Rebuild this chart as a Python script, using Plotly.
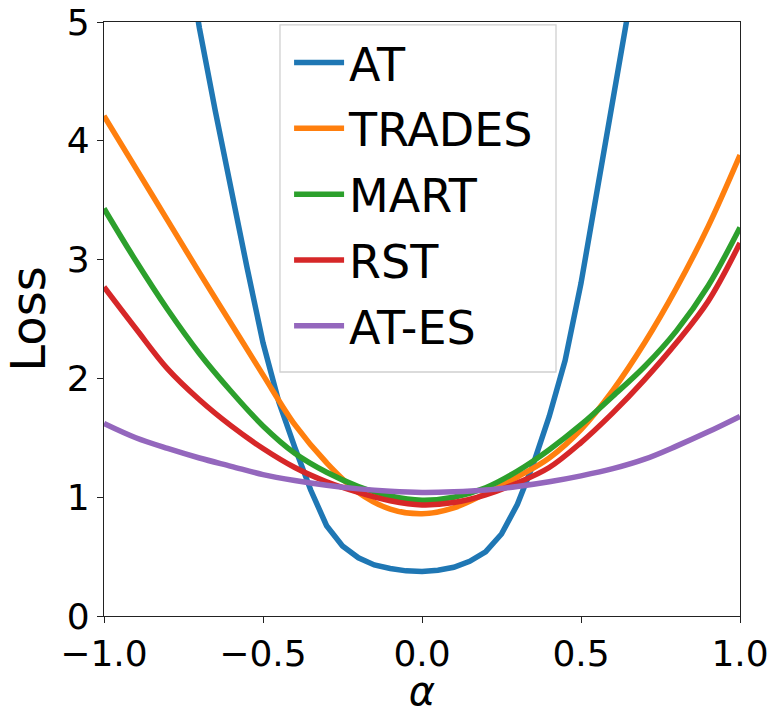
import plotly.graph_objects as go

# alpha grids
alpha_at = [round(-1.0 + 0.05 * i, 2) for i in range(41)]
alpha = [round(-1.0 + 0.1 * i, 1) for i in range(21)]

# AT (0.05 step)
loss_at = [9.9, 9.0, 8.2, 7.4, 6.6, 5.75, 4.95, 4.25, 3.58, 2.93,
           2.30, 1.80, 1.42, 1.06, 0.76, 0.59, 0.49, 0.43, 0.40, 0.38,
           0.375, 0.385, 0.41, 0.46, 0.54, 0.69, 0.94, 1.28, 1.68, 2.15,
           2.80, 3.50, 4.20, 4.95, 5.70, 6.50, 7.30, 8.10, 8.90, 9.70, 10.5]

loss_trades = [4.21, 3.77, 3.33, 2.89, 2.46, 2.03, 1.61, 1.29, 1.04, 0.90,
               0.86, 0.91, 1.03, 1.17, 1.33, 1.57, 1.90, 2.30, 2.76, 3.28, 3.88]
loss_mart = [3.43, 2.99, 2.58, 2.21, 1.89, 1.60, 1.37, 1.21, 1.09, 1.01,
             0.975, 1.00, 1.08, 1.22, 1.40, 1.61, 1.85, 2.10, 2.40, 2.78, 3.27]
loss_rst = [2.77, 2.42, 2.08, 1.82, 1.60, 1.41, 1.25, 1.13, 1.04, 0.97,
            0.935, 0.955, 1.02, 1.12, 1.25, 1.46, 1.71, 1.99, 2.30, 2.65, 3.14]
loss_ates = [1.62, 1.50, 1.41, 1.33, 1.26, 1.19, 1.14, 1.10, 1.07, 1.05,
             1.04, 1.045, 1.06, 1.09, 1.13, 1.18, 1.24, 1.32, 1.43, 1.55, 1.68]

names = ["AT", "TRADES", "MART", "RST", "AT-ES"]
colors = ["#1f77b4", "#ff7f0e", "#2ca02c", "#d62728", "#9467bd"]

x_ticks = [-1.0, -0.5, 0.0, 0.5, 1.0]
y_ticks = [0, 1, 2, 3, 4, 5]

fig = go.Figure()
series = [(alpha_at, loss_at, "linear"),
          (alpha, loss_trades, "spline"),
          (alpha, loss_mart, "spline"),
          (alpha, loss_rst, "spline"),
          (alpha, loss_ates, "spline")]
for (xs, ys, shape), name, c in zip(series, names, colors):
    fig.add_trace(go.Scatter(x=xs, y=ys, mode="lines", name=name, legendgroup=name,
                             line=dict(color=c, width=5.5, shape=shape)))

font = "DejaVu Sans"
axis_common = dict(showgrid=False, zeroline=False, showline=True, mirror=True,
                   linecolor="#222", linewidth=1.3, ticks="outside", ticklen=6,
                   tickwidth=1.3, tickcolor="#222", automargin=False,
                   ticklabeloverflow="allow",
                   tickfont=dict(family=font, size=36, color="black"))

# legend frame (matplotlib-style box)
fig.add_shape(type="rect", xref="paper", yref="paper",
              x0=0.2767, x1=0.7107, y0=0.4108, y1=0.995,
              line=dict(color="#d0d0d0", width=1.3), fillcolor="rgba(255,255,255,0.85)",
              layer="above")

fig.update_layout(
    width=772, height=714,
    margin=dict(l=104, r=32, t=22, b=98),
    paper_bgcolor="white", plot_bgcolor="white",
    font=dict(family=font, color="black"),
    showlegend=True,
    legend=dict(x=0.291, y=0.993, xanchor="left", yanchor="top",
                bgcolor="rgba(0,0,0,0)", borderwidth=0,
                font=dict(family=font, size=46, color="black"),
                itemwidth=50, tracegroupgap=3),
    xaxis=dict(range=[-1.0, 1.0], tickvals=x_ticks, tickformat=".1f",
               title=dict(text="<i>α</i>", font=dict(family=font, size=40), standoff=7),
               **axis_common),
    yaxis=dict(range=[0, 5], tickvals=y_ticks,
               title=dict(text="Loss", font=dict(family=font, size=48), standoff=14),
               **axis_common),
)

fig.write_html("out.html", config={"displayModeBar": False},
               post_script="document.body.style.margin='0';document.body.style.overflow='hidden';")
